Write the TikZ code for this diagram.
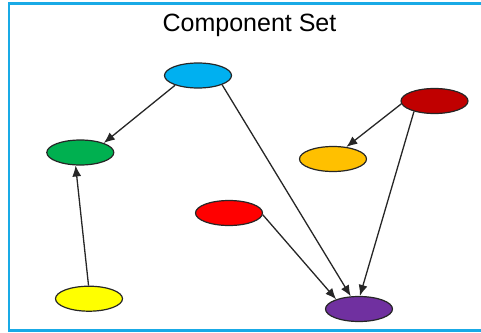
\documentclass[tikz,border=0pt]{standalone}
\usepackage{fontspec}
\setmainfont{Liberation Sans}
\usetikzlibrary{shapes.geometric,arrows.meta}
\definecolor{frameblue}{RGB}{25,170,230}
\definecolor{cblue}{RGB}{0,176,240}
\definecolor{cdarkred}{RGB}{192,0,0}
\definecolor{cgreen}{RGB}{0,176,80}
\definecolor{corange}{RGB}{255,192,0}
\definecolor{cred}{RGB}{255,0,0}
\definecolor{cyellow}{RGB}{255,255,0}
\definecolor{cpurple}{RGB}{112,48,160}
\begin{document}
\begin{tikzpicture}[x=1pt,y=-1pt,
  blob/.style={ellipse,draw=black!85,line width=1.2pt,minimum width=67pt,minimum height=25pt,inner sep=0pt},
  link/.style={draw=black!85,line width=1.3pt,-{Latex[length=11pt,width=9pt]}}]
\useasboundingbox (0,0) rectangle (481,332);
\draw[frameblue,line width=2.6pt] (9,3.5) rectangle (490,330.5);
\node[anchor=base,font=\fontsize{25}{28}\selectfont] (title) at (249.5,31) {Component Set};
\node[blob,fill=cblue] (blue) at (198,75.5) {};
\node[blob,fill=cdarkred] (dred) at (434.5,101) {};
\node[blob,fill=cgreen] (green) at (80.3,152.5) {};
\node[blob,fill=corange] (orange) at (333,159) {};
\node[blob,fill=cred] (red) at (229,213) {};
\node[blob,fill=cyellow] (yellow) at (89,298.7) {};
\node[blob,fill=cpurple] (purple) at (359,309) {};
\draw[link] (blue.203) -- (green.22);
\draw[link] (blue.339) -- (purple.123);
\draw[link] (dred.185) -- (orange.42);
\draw[link] (dred.207) -- (purple.86);
\draw[link] (red.357) -- (purple.157);
\draw[link] (yellow.92) -- (green.250);
\end{tikzpicture}
\end{document}
